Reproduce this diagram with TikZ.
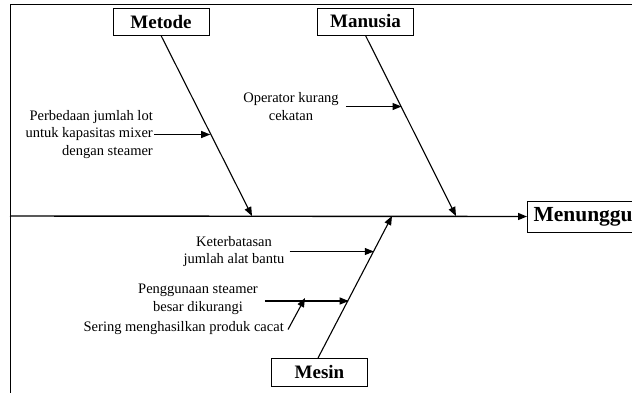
\documentclass[tikz,border=0pt]{standalone}
\usepackage{fontspec}
\setmainfont{Liberation Serif}
\usetikzlibrary{arrows.meta,calc}
\begin{document}
\begin{tikzpicture}[x=1pt,y=-1pt,
  cat/.style={draw, line width=1pt, font=\fontsize{19}{22}\selectfont\bfseries,
    minimum width=96pt, minimum height=27pt, inner sep=0pt},
  cause/.style={font=\fontsize{14.5}{17.5}\selectfont, inner sep=1pt},
  arr/.style={line width=1.1pt, -{Triangle[length=9pt,width=7pt]}}]
\useasboundingbox (0,0) rectangle (632,392);
\clip (0,0) rectangle (632,392);
% frame
\draw[line width=1pt] (10,400) -- (10,4) -- (640,4);
% category boxes
\node[cat] (metode) at (161,21.5) {Metode};
\node[cat] (manusia) at (365.5,21.5) {Manusia};
\node[cat, minimum height=28pt] (mesin) at (319.5,372) {Mesin};
\node[cat, anchor=west, text width=110pt, align=left, inner xsep=6pt,
  minimum height=31pt, font=\fontsize{21.5}{24}\selectfont\bfseries] (menunggu) at (527,216.5) {Menunggu};
% spine and bones
\coordinate (s0) at (10,216);
\coordinate (b1) at (252,216);
\coordinate (b2) at (456,216);
\coordinate (b3) at (392,216);
\draw[arr, line width=1.4pt] (s0) -- (menunggu.west);
\draw[arr] (metode.south) -- (b1);
\draw[arr] (manusia.south) -- (b2);
\coordinate (mb) at (318,358);
\draw[arr] (mb) -- (b3);
% points on bones
\coordinate (p1) at ($(metode.south)!0.541!(b1)$);
\coordinate (p2) at ($(manusia.south)!0.398!(b2)$);
\coordinate (p3) at ($(mb)!0.754!(b3)$);
\coordinate (p4) at ($(mb)!0.415!(b3)$);
% causes
\node[cause, align=right, anchor=east] (perb) at (154,134.5)
  {Perbedaan jumlah lot\\untuk kapasitas mixer\\dengan steamer};
\node[cause, align=center] (oper) at (291,106.5) {Operator kurang\\cekatan};
\node[cause, align=center] (keter) at (234,251.5) {Keterbatasan\\jumlah alat bantu};
\node[cause, align=center] (peng) at (198,299.5) {Penggunaan steamer\\besar dikurangi};
\node[cause, anchor=east] (sering) at (285,328.5) {Sering menghasilkan produk cacat};
\draw[arr] (perb.east) -- (p1 |- perb.east);
\draw[arr] ([xshift=6pt]oper.east) -- (p2 |- oper.east);
\draw[arr] ([xshift=4pt]keter.east) -- (p3 |- keter.east);
\coordinate (ps) at ([xshift=6pt,yshift=-1.5pt]peng.east);
\draw[arr] (ps) -- (p4 |- ps);
\coordinate (q) at (305,298);
\draw[arr] ([xshift=3pt,yshift=-1pt]sering.east) -- (q);
\end{tikzpicture}
\end{document}
